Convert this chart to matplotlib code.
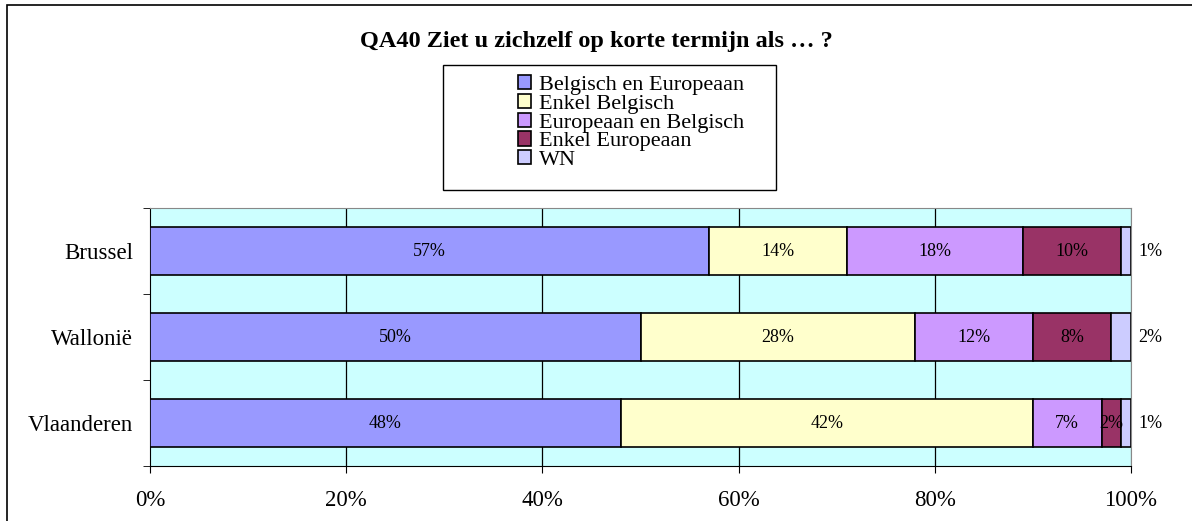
import matplotlib.pyplot as plt
from matplotlib.patches import Rectangle
import numpy as np

plt.rcParams['font.family'] = ['Liberation Serif', 'DejaVu Serif']

regions = ['Vlaanderen', 'Wallonië', 'Brussel']
series = ['Belgisch en Europeaan', 'Enkel Belgisch', 'Europeaan en Belgisch',
          'Enkel Europeaan', 'WN']
values = {
    'Belgisch en Europeaan': [48, 50, 57],
    'Enkel Belgisch': [42, 28, 14],
    'Europeaan en Belgisch': [7, 12, 18],
    'Enkel Europeaan': [2, 8, 10],
    'WN': [1, 2, 1],
}
colors = ['#9999FF', '#FFFFCC', '#CC99FF', '#993366', '#CCCCFF']
xticks = [0, 20, 40, 60, 80, 100]

W, H = 1192, 521
fig = plt.figure(figsize=(W / 100, H / 100), dpi=100)

# outer chart border (right/bottom fall outside the image)
fig.patches.append(Rectangle((7 / W, -0.1), 1.2, 1 - 5 / H + 0.1,
                             transform=fig.transFigure, fill=False,
                             edgecolor='black', linewidth=1.2))

ax = fig.add_axes([150 / W, 1 - 466 / H, 981 / W, 258 / H])
ax.set_facecolor('#CCFFFF')

y = np.arange(len(regions))
left = np.zeros(len(regions))
handles = []
for name, c in zip(series, colors):
    v = np.array(values[name], dtype=float)
    b = ax.barh(y, v, left=left, height=0.55, color=c, edgecolor='black',
                linewidth=1.2, zorder=3)
    handles.append(b)
    for yi, (l, w) in enumerate(zip(left, v)):
        if name == 'WN':
            ax.text(102, yi, f'{int(w)}%', va='center', ha='center',
                    fontsize=13, clip_on=False)
        else:
            ax.text(l + w / 2, yi, f'{int(w)}%', va='center', ha='center',
                    fontsize=13, zorder=4)
    left += v

ax.set_xlim(0, 100)
ax.set_ylim(-0.5, 2.5)
ax.set_xticks(xticks)
ax.set_xticklabels([f'{t}%' for t in xticks], fontsize=16.5)
ax.tick_params(axis='x', length=5, direction='out', pad=12)
for t in xticks[1:]:
    ax.axvline(t, color='black' if t < 100 else '#888888', linewidth=0.9,
               zorder=1)

ax.set_yticks(y)
ax.set_yticklabels(regions, fontsize=16.5)
ax.tick_params(axis='y', which='major', length=0, pad=12)
ax.set_yticks([-0.5, 0.5, 1.5, 2.5], minor=True)
ax.tick_params(axis='y', which='minor', length=5, direction='out')

ax.spines['top'].set_color('#888888')
ax.spines['right'].set_color('#888888')
ax.spines['left'].set_color('black')
ax.spines['bottom'].set_color('black')

fig.text(0.5, 1 - 42 / H, 'QA40 Ziet u zichzelf op korte termijn als … ?',
         ha='center', va='center', fontsize=17.5, fontweight='bold')

# legend box
fig.patches.append(Rectangle((443 / W, 1 - 190 / H), 333 / W, 125 / H,
                             transform=fig.transFigure, fill=False,
                             edgecolor='black', linewidth=1))
leg = fig.legend(handles, series, loc='upper left',
                 bbox_to_anchor=(507 / W, 1 - 64 / H), frameon=False,
                 fontsize=16, handlelength=0.6, handleheight=0.6,
                 handletextpad=0.35, labelspacing=-0.05, borderpad=0)

fig.savefig('out.png', dpi=100)
